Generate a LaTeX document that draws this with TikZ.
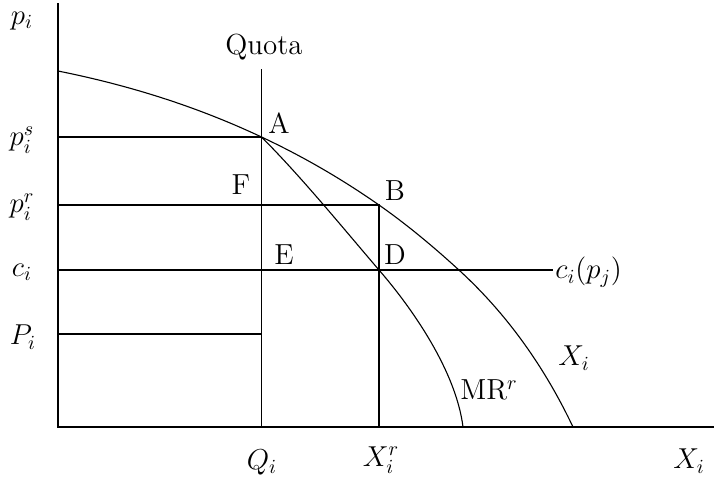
\documentclass[tikz,border=0pt]{standalone}
\begin{document}
\begin{tikzpicture}[x=0.5pt,y=-0.5pt,
  lbl/.style={inner sep=0pt,font=\fontsize{14.5}{17}\selectfont},
  ln/.style={line width=0.55pt}]
\useasboundingbox (0,0) rectangle (714,483);
% axes
\coordinate (O) at (58,427);
\coordinate (Ytop) at (58,3);
\coordinate (Xend) at (714,427);
\draw[ln] (Ytop) -- (O) -- (Xend);
% points
\coordinate (A) at (261.5,137);
\coordinate (B) at (379,205);
\coordinate (D) at (379,270);
\coordinate (P) at (460,271);
\coordinate (Dend) at (573,427);
\coordinate (Dstart) at (58,71);
\coordinate (MRend) at (463,427);
\coordinate (Qtop) at (261.5,69);
\coordinate (Qbot) at (261.5,427);
\coordinate (Xrbot) at (379,427);
\coordinate (ps) at (58,137);
\coordinate (pr) at (58,205);
\coordinate (ci) at (58,270);
\coordinate (Pi) at (58,334);
\coordinate (PiE) at (261.5,334);
\coordinate (ciE) at (553,270);
% lines
\draw[ln] (Qtop) -- (Qbot);
\draw[ln] (ps) -- (A);
\draw[ln] (pr) -- (B) -- (Xrbot);
\draw[ln] (ci) -- (ciE);
\draw[ln] (Pi) -- (PiE);
% demand curve
\draw[ln] (Dstart) .. controls (125.8,84.6) and (193.7,105.1) .. (A)
  .. controls (300.7,155.4) and (339.8,177.6) .. (B)
  .. controls (406,223.9) and (433,246.2) .. (P)
  .. controls (508,315.2) and (545,368) .. (Dend);
% MR curve
\draw[ln] (A) .. controls (300.5,176) and (340,224.4) .. (D)
  .. controls (412,308) and (456,371) .. (MRend);
% labels
\node[lbl] (lpi) at (22,21) {$p_i$};
\node[lbl] (lquota) at (264,47) {Quota};
\node[lbl] (lps) at (22,140) {$p_i^s$};
\node[lbl] (lpr) at (22,207) {$p_i^r$};
\node[lbl] (lci) at (22,272) {$c_i$};
\node[lbl] (lPi) at (23,337) {$P_i$};
\node[lbl] (lA) at (279,123) {A};
\node[lbl] (lF) at (241,185) {F};
\node[lbl] (lB) at (395,191) {B};
\node[lbl] (lE) at (284,255) {E};
\node[lbl] (lD) at (395,255) {D};
\node[lbl,anchor=west] (lcipj) at (555,272) {$c_i(p_j)$};
\node[lbl] (lXc) at (574,358) {$X_i$};
\node[lbl] (lMR) at (489,390) {MR$^r$};
\node[lbl] (lQ) at (262,462) {$Q_i$};
\node[lbl] (lXr) at (381,460) {$X_i^r$};
\node[lbl] (lX) at (689,461) {$X_i$};
\end{tikzpicture}
\end{document}
